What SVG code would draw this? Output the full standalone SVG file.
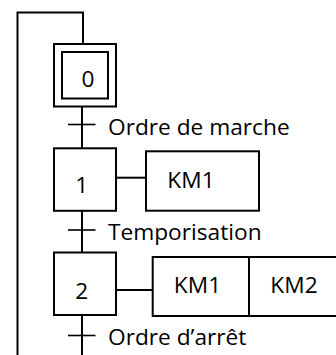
<svg xmlns="http://www.w3.org/2000/svg" width="336" height="355" viewBox="0 0 336 355">
<style>
.box{fill:#fff;stroke:#000;stroke-width:2}
.ln{fill:none;stroke:#000;stroke-width:2}
.bar{fill:none;stroke:#000;stroke-width:1.6}
text{font-family:"Open Sans","Liberation Sans",sans-serif;font-size:22.7px;fill:#000}
.c{text-anchor:middle}
</style>
<rect width="336" height="355" fill="#fff"/>
<g id="connectors">
<polyline class="ln" points="83,44 83,12.5 17.5,12.5 17.5,355"/>
<line class="ln" x1="82" y1="106" x2="82" y2="149"/>
<line class="ln" x1="82" y1="210" x2="82" y2="253"/>
<line class="ln" x1="82" y1="314" x2="82" y2="355"/>
<line class="bar" x1="68" y1="124.5" x2="95.5" y2="124.5"/>
<line class="bar" x1="68" y1="230" x2="95.5" y2="230"/>
<line class="bar" x1="68" y1="335.5" x2="95.5" y2="335.5"/>
<line class="ln" x1="116" y1="177.7" x2="146" y2="177.7"/>
<line class="ln" x1="116" y1="290" x2="152.7" y2="290"/>
</g>
<g id="step0">
<rect class="box" x="54" y="44" width="62" height="62.5"/>
<rect class="box" x="62" y="52" width="46" height="46.5"/>
<text class="c" x="88" y="87.3">0</text>
</g>
<g id="t0"><text x="108" y="135">Ordre de marche</text></g>
<g id="step1">
<rect class="box" x="54" y="148.3" width="62" height="62.5"/>
<text class="c" x="81.7" y="192.7">1</text>
</g>
<g id="action1">
<rect class="box" x="146" y="151.3" width="113" height="59.4"/>
<text class="c" x="191" y="188.3">KM1</text>
</g>
<g id="t1"><text x="108" y="239.6">Temporisation</text></g>
<g id="step2">
<rect class="box" x="54" y="252.5" width="62" height="62.5"/>
<text class="c" x="81.7" y="299">2</text>
</g>
<g id="action2">
<rect class="box" x="152.7" y="257" width="190" height="59"/>
<line class="ln" x1="249" y1="257" x2="249" y2="316"/>
<text class="c" x="197.5" y="293">KM1</text>
<text class="c" x="294" y="292.5">KM2</text>
</g>
<g id="t2"><text x="108" y="345">Ordre d’arrêt</text></g>
</svg>
